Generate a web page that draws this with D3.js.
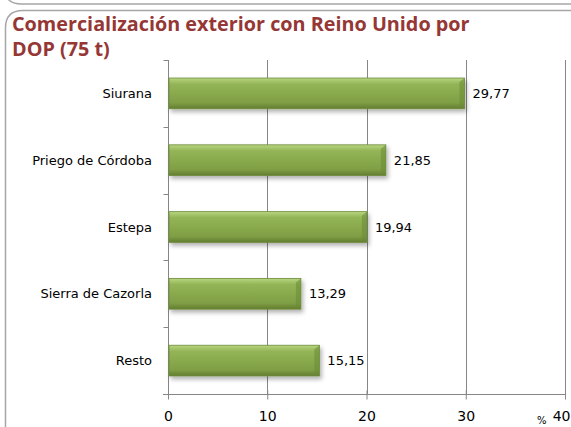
<!DOCTYPE html>
<html>
<head>
<meta charset="utf-8">
<script src="https://cdn.jsdelivr.net/npm/d3@7"></script>
<style>
  html, body { margin: 0; padding: 0; background: #fff; }
  svg { display: block; }
</style>
</head>
<body>
<div id="chart"></div>
<script>
// data
const titleLines = ['Comercialización exterior con Reino Unido por', 'DOP (75 t)']
const categories = ['Siurana', 'Priego de Córdoba', 'Estepa', 'Sierra de Cazorla', 'Resto']
const values = [29.77, 21.85, 19.94, 13.29, 15.15]
const xTicks = [0, 10, 20, 30, 40]
const unitLabel = '%'

const width = 571
const height = 427
const margin = {top: 60, right: 6, bottom: 33, left: 168}

const svg = d3.select('#chart').append('svg')
  .attr('width', width)
  .attr('height', height)

const defs = svg.append('defs')
const grad = defs.append('linearGradient')
  .attr('id', 'barFill')
  .attr('x1', 0).attr('y1', 0).attr('x2', 0).attr('y2', 1)
grad.append('stop').attr('offset', '0%').attr('stop-color', '#b8d680')
grad.append('stop').attr('offset', '20%').attr('stop-color', '#93b456')
grad.append('stop').attr('offset', '80%').attr('stop-color', '#809f45')
grad.append('stop').attr('offset', '100%').attr('stop-color', '#627d30')

const shadow = defs.append('filter').attr('id', 'shadow')
  .attr('x', '-5%').attr('y', '-20%').attr('width', '115%').attr('height', '160%')
shadow.append('feDropShadow')
  .attr('dx', 2).attr('dy', 3).attr('stdDeviation', 2)
  .attr('flood-color', '#000').attr('flood-opacity', 0.3)

// slide panel borders
svg.append('path')
  .attr('d', 'M8,-1 Q12,4 22,4 L571,4')
  .attr('fill', 'none').attr('stroke', '#a6a6a6').attr('stroke-width', 1.5)
svg.append('path')
  .attr('d', `M5.5,${height} L5.5,28 Q5.5,10.5 23,10.5 L571,10.5`)
  .attr('fill', 'none').attr('stroke', '#a6a6a6').attr('stroke-width', 1.5)

// title
svg.append('text')
  .attr('font-family', 'Open Sans, sans-serif')
  .attr('font-weight', 'bold')
  .attr('font-size', 19.8)
  .attr('fill', '#953735')
  .selectAll('tspan')
  .data(titleLines)
  .join('tspan')
  .attr('x', 12)
  .attr('y', (d, i) => 31 + i * 25)
  .text(d => d)

const x = d3.scaleLinear()
  .domain([0, 40])
  .range([margin.left, 565])

const plotBottom = height - margin.bottom

const y = d3.scaleBand()
  .domain(categories)
  .range([margin.top, plotBottom])
  .paddingInner(0.54)
  .paddingOuter(0.27)

// gridlines
svg.append('g')
  .selectAll('line')
  .data(xTicks.slice(1))
  .join('line')
  .attr('x1', d => Math.round(x(d)) + 0.5)
  .attr('x2', d => Math.round(x(d)) + 0.5)
  .attr('y1', margin.top)
  .attr('y2', plotBottom)
  .attr('stroke', '#868686')

// x axis
const xAxis = svg.append('g')
  .attr('transform', `translate(0,${plotBottom + 0.5})`)
  .call(d3.axisBottom(x).tickValues(xTicks).tickSizeOuter(0).tickSize(5).tickPadding(12))
xAxis.select('.domain')
  .attr('d', `M${margin.left - 5},0H${x(40)}`)
  .attr('stroke', '#868686')
xAxis.selectAll('.tick line').attr('stroke', '#868686').attr('y1', -4)
xAxis.selectAll('.tick text')
  .attr('font-family', 'DejaVu Sans, sans-serif')
  .attr('font-size', 14)
  .attr('fill', '#000')
// last label sits at the window edge: keep it inside
xAxis.selectAll('.tick text')
  .filter(d => d === 40)
  .attr('text-anchor', 'end')
  .attr('dx', 5)

// y axis
const yAxis = svg.append('g')
  .attr('transform', `translate(${margin.left + 0.5},0)`)
yAxis.append('line')
  .attr('y1', margin.top).attr('y2', plotBottom)
  .attr('stroke', '#868686')
const step = y.step()
yAxis.selectAll('.ytick')
  .data(d3.range(categories.length + 1))
  .join('line')
  .attr('class', 'ytick')
  .attr('x1', -5).attr('x2', 0)
  .attr('y1', i => Math.round(margin.top + i * step) + 0.5)
  .attr('y2', i => Math.round(margin.top + i * step) + 0.5)
  .attr('stroke', '#868686')

svg.append('g')
  .selectAll('text')
  .data(categories)
  .join('text')
  .attr('x', 152)
  .attr('y', d => y(d) + y.bandwidth() / 2)
  .attr('dy', '0.35em')
  .attr('text-anchor', 'end')
  .attr('font-family', 'DejaVu Sans, sans-serif')
  .attr('font-size', 13)
  .attr('fill', '#000')
  .text(d => d)

// bars
const bars = svg.append('g')
bars.selectAll('rect')
  .data(values)
  .join('rect')
  .attr('x', x(0) + 1)
  .attr('y', (d, i) => y(categories[i]))
  .attr('width', d => x(d) - x(0))
  .attr('height', y.bandwidth())
  .attr('fill', 'url(#barFill)')
  .attr('stroke', '#6e8b3a')
  .attr('stroke-width', 0.8)
  .attr('filter', 'url(#shadow)')
// bevel on right end
bars.selectAll('path')
  .data(values)
  .join('path')
  .attr('d', (d, i) => {
    const x1 = x(d) + 1
    const y0 = y(categories[i])
    const h = y.bandwidth()
    return `M${x1},${y0} L${x1},${y0 + h} L${x1 - 5},${y0 + h - 4} L${x1 - 5},${y0 + 4} Z`
  })
  .attr('fill', '#6a8a34')
  .attr('opacity', 0.55)

// value labels
svg.append('g')
  .selectAll('text')
  .data(values)
  .join('text')
  .attr('x', d => x(d) + 9)
  .attr('y', (d, i) => y(categories[i]) + y.bandwidth() / 2)
  .attr('dy', '0.35em')
  .attr('font-family', 'DejaVu Sans, sans-serif')
  .attr('font-size', 13)
  .attr('fill', '#000')
  .text(d => d3.format('.2f')(d).replace('.', ','))

svg.append('text')
  .attr('x', 537)
  .attr('y', 424)
  .attr('font-family', 'DejaVu Sans, sans-serif')
  .attr('font-size', 10)
  .text(unitLabel)
</script>
</body>
</html>
